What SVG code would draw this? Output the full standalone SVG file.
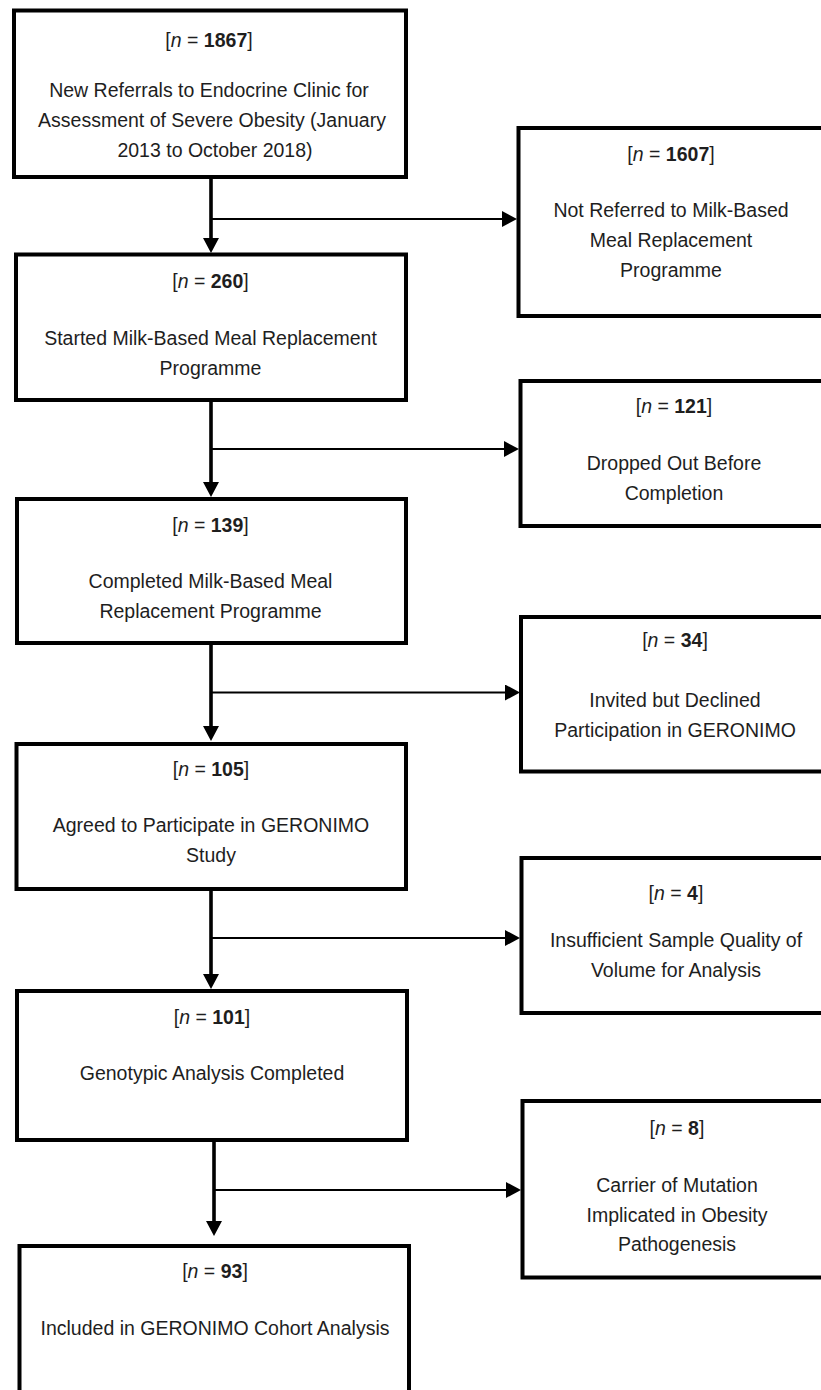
<svg xmlns="http://www.w3.org/2000/svg" width="821" height="1390" viewBox="0 0 821 1390">
<style>
.box{fill:#fff;stroke:#000;stroke-width:4}
.t{font-family:"Liberation Sans",Arial,sans-serif;font-size:19.5px;fill:#1e1e1e;text-anchor:middle}
.b{font-weight:bold}
.i{font-style:italic}
.v{stroke:#000;stroke-width:3.6;fill:none}
.h{stroke:#000;stroke-width:2.2;fill:none}
</style>
<defs>
<marker id="ah" markerUnits="userSpaceOnUse" markerWidth="15" markerHeight="16" refX="0" refY="8" orient="auto" viewBox="0 0 15 16">
<path d="M0,0 L15,8 L0,16 z" fill="#000"/>
</marker>
</defs>
<rect width="821" height="1390" fill="#fff"/>
<g id="connectors">
<line class="v" x1="211" y1="177" x2="211" y2="238" marker-end="url(#ah)"/>
<line class="h" x1="211" y1="219" x2="502" y2="219" marker-end="url(#ah)"/>
<line class="v" x1="211" y1="400" x2="211" y2="482" marker-end="url(#ah)"/>
<line class="h" x1="211" y1="449" x2="504" y2="449" marker-end="url(#ah)"/>
<line class="v" x1="211" y1="643" x2="211" y2="726" marker-end="url(#ah)"/>
<line class="h" x1="211" y1="692.5" x2="505" y2="692.5" marker-end="url(#ah)"/>
<line class="v" x1="211" y1="889" x2="211" y2="974" marker-end="url(#ah)"/>
<line class="h" x1="211" y1="938" x2="505" y2="938" marker-end="url(#ah)"/>
<line class="v" x1="214" y1="1140" x2="214" y2="1221" marker-end="url(#ah)"/>
<line class="h" x1="214" y1="1190" x2="506" y2="1190" marker-end="url(#ah)"/>
</g>
<g id="n1">
<rect class="box" x="14" y="10.5" width="392" height="166.5"/>
<text class="t" x="209" y="47">[<tspan class="i">n</tspan> = <tspan class="b">1867</tspan>]</text>
<text class="t" x="209" y="97">New Referrals to Endocrine Clinic for</text>
<text class="t" x="212" y="127">Assessment of Severe Obesity (January</text>
<text class="t" x="215" y="157">2013 to October 2018)</text>
</g>
<g id="r1">
<rect class="box" x="518.5" y="128" width="330" height="188"/>
<text class="t" x="671" y="161">[<tspan class="i">n</tspan> = <tspan class="b">1607</tspan>]</text>
<text class="t" x="671" y="217">Not Referred to Milk-Based</text>
<text class="t" x="671" y="247">Meal Replacement</text>
<text class="t" x="671" y="277">Programme</text>
</g>
<g id="n2">
<rect class="box" x="16" y="254.5" width="390" height="145.5"/>
<text class="t" x="210.5" y="288">[<tspan class="i">n</tspan> = <tspan class="b">260</tspan>]</text>
<text class="t" x="210.5" y="345">Started Milk-Based Meal Replacement</text>
<text class="t" x="210.5" y="375">Programme</text>
</g>
<g id="r2">
<rect class="box" x="520.5" y="381" width="330" height="145"/>
<text class="t" x="674" y="413">[<tspan class="i">n</tspan> = <tspan class="b">121</tspan>]</text>
<text class="t" x="674" y="470">Dropped Out Before</text>
<text class="t" x="674" y="500">Completion</text>
</g>
<g id="n3">
<rect class="box" x="17" y="499" width="389" height="144"/>
<text class="t" x="210.5" y="532">[<tspan class="i">n</tspan> = <tspan class="b">139</tspan>]</text>
<text class="t" x="210.5" y="588">Completed Milk-Based Meal</text>
<text class="t" x="210.5" y="618">Replacement Programme</text>
</g>
<g id="r3">
<rect class="box" x="521" y="617" width="330" height="154.5"/>
<text class="t" x="675" y="647">[<tspan class="i">n</tspan> = <tspan class="b">34</tspan>]</text>
<text class="t" x="675" y="707">Invited but Declined</text>
<text class="t" x="675" y="737">Participation in GERONIMO</text>
</g>
<g id="n4">
<rect class="box" x="16.5" y="744" width="389.5" height="145"/>
<text class="t" x="211" y="776">[<tspan class="i">n</tspan> = <tspan class="b">105</tspan>]</text>
<text class="t" x="211" y="832">Agreed to Participate in GERONIMO</text>
<text class="t" x="211" y="862">Study</text>
</g>
<g id="r4">
<rect class="box" x="521.5" y="858" width="330" height="155"/>
<text class="t" x="676" y="900">[<tspan class="i">n</tspan> = <tspan class="b">4</tspan>]</text>
<text class="t" x="676" y="947">Insufficient Sample Quality of</text>
<text class="t" x="676" y="977">Volume for Analysis</text>
</g>
<g id="n5">
<rect class="box" x="17" y="991" width="390" height="149"/>
<text class="t" x="212" y="1024">[<tspan class="i">n</tspan> = <tspan class="b">101</tspan>]</text>
<text class="t" x="212" y="1080">Genotypic Analysis Completed</text>
</g>
<g id="r5">
<rect class="box" x="522.5" y="1101" width="330" height="176.5"/>
<text class="t" x="677" y="1135">[<tspan class="i">n</tspan> = <tspan class="b">8</tspan>]</text>
<text class="t" x="677" y="1192">Carrier of Mutation</text>
<text class="t" x="677" y="1222">Implicated in Obesity</text>
<text class="t" x="677" y="1251">Pathogenesis</text>
</g>
<g id="n6">
<rect class="box" x="19.5" y="1246" width="389.5" height="160"/>
<text class="t" x="215" y="1278">[<tspan class="i">n</tspan> = <tspan class="b">93</tspan>]</text>
<text class="t" x="215" y="1335">Included in GERONIMO Cohort Analysis</text>
</g>
</svg>
